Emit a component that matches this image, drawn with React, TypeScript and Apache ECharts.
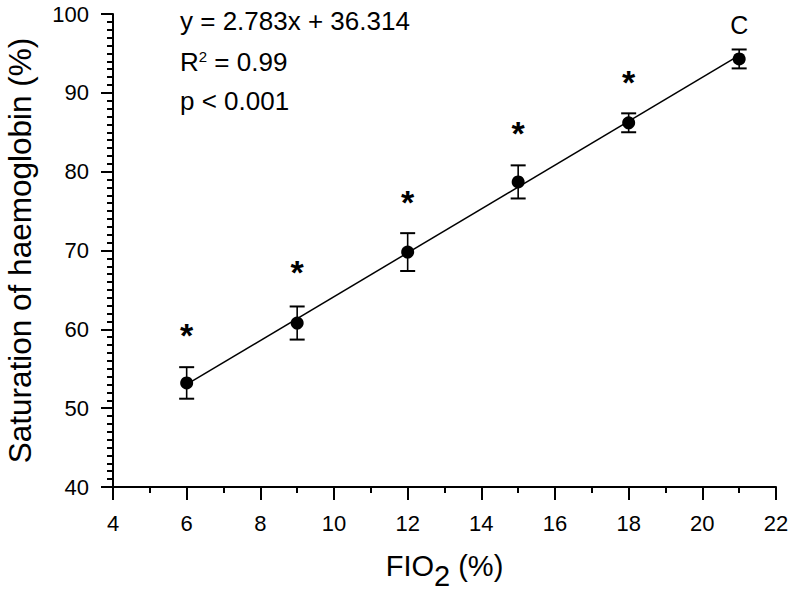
import React, { useEffect, useRef } from "react";
import * as echarts from "echarts";

const FONT = "'Liberation Sans', Arial, sans-serif";

// FIO2 (%) levels
const fio2 = [6, 9, 12, 15, 18, 21];
// mean saturation of haemoglobin (%)
const satMean = [53.2, 60.8, 69.8, 78.7, 86.2, 94.3];
// error (±)
const satErr = [2.0, 2.1, 2.4, 2.1, 1.2, 1.2];
// significance marks and their vertical positions
const marks = ["*", "*", "*", "*", "*", "C"];
const markY = [59.6, 67.6, 76.5, 85.3, 91.8, 98.6];
// regression line end points (y = 2.783x + 36.314)
const fitX = [6, 21];
const fitY = [53.01, 94.76];

const xTicks = [4, 6, 8, 10, 12, 14, 16, 18, 20, 22];
const yTicks = [40, 50, 60, 70, 80, 90, 100];

export default function App() {
  const ref = useRef<HTMLDivElement>(null);
  useEffect(() => {
    if (!ref.current) return;
    const chart = echarts.init(ref.current, undefined, { renderer: "svg" });
    const axisLineStyle = { color: "#000", width: 2 };
    chart.setOption({
      animation: false,
      backgroundColor: "#fff",
      textStyle: { fontFamily: FONT },
      grid: { left: 113, right: 20, top: 14, bottom: 110, containLabel: false, outerBoundsMode: "none" },
      xAxis: {
        type: "value",
        min: xTicks[0],
        max: xTicks[xTicks.length - 1],
        interval: 2,
        name: "{a|FIO}{b|2}{a| (%)}",
        nameLocation: "middle",
        nameGap: 64,
        nameTextStyle: {
          rich: {
            a: { fontSize: 29, color: "#000", fontFamily: FONT, verticalAlign: "top" },
            b: { fontSize: 29, color: "#000", fontFamily: FONT, verticalAlign: "bottom", padding: [10, 0, 0, 0] },
          },
        },
        axisLine: { lineStyle: axisLineStyle },
        axisTick: { length: 13, lineStyle: { color: "#000", width: 2 } },
        minorTick: { show: true, splitNumber: 2, length: 6, lineStyle: { color: "#000", width: 2 } },
        splitLine: { show: false },
        axisLabel: { fontSize: 22, color: "#000", margin: 25, fontFamily: FONT },
      },
      yAxis: {
        type: "value",
        min: yTicks[0],
        max: yTicks[yTicks.length - 1],
        interval: 10,
        name: "Saturation of haemoglobin (%)",
        nameLocation: "middle",
        nameGap: 77,
        nameRotate: 90,
        nameTextStyle: { fontSize: 31.5, color: "#000", fontFamily: FONT },
        axisLine: { lineStyle: axisLineStyle },
        axisTick: { length: 12, lineStyle: { color: "#000", width: 2 } },
        minorTick: { show: true, splitNumber: 10, length: 6, lineStyle: { color: "#000", width: 2 } },
        splitLine: { show: false },
        axisLabel: { fontSize: 22, color: "#000", margin: 24, fontFamily: FONT },
      },
      graphic: [
        {
          type: "text",
          left: 180,
          top: 8,
          style: { text: "y = 2.783x + 36.314", fontSize: 26, fill: "#000", fontFamily: FONT },
        },
        {
          type: "text",
          left: 180,
          top: 49,
          style: {
            text: "{a|R}{s|2}{a| = 0.99}",
            fill: "#000",
            rich: {
              a: { fontSize: 26, fontFamily: FONT, fill: "#000", verticalAlign: "bottom" },
              s: { fontSize: 15, fontFamily: FONT, fill: "#000", verticalAlign: "top" },
            },
          },
        },
        {
          type: "text",
          left: 180,
          top: 88,
          style: { text: "p < 0.001", fontSize: 26, fill: "#000", fontFamily: FONT },
        },
      ],
      series: [
        {
          type: "line",
          data: fitX.map((x, i) => [x, fitY[i]]),
          symbol: "none",
          lineStyle: { color: "#000", width: 1.5 },
          z: 2,
        },
        {
          type: "custom",
          data: fio2.map((x, i) => [x, satMean[i], satErr[i]]),
          renderItem: (params: any, api: any) => {
            const x = api.value(0);
            const y = api.value(1);
            const e = api.value(2);
            const top = api.coord([x, y + e]);
            const bot = api.coord([x, y - e]);
            const hw = 7.5;
            const st = { stroke: "#000", lineWidth: 2 };
            return {
              type: "group",
              children: [
                { type: "line", shape: { x1: top[0], y1: top[1], x2: bot[0], y2: bot[1] }, style: { stroke: "#000", lineWidth: 1.6 } },
                { type: "line", shape: { x1: top[0] - hw, y1: top[1], x2: top[0] + hw, y2: top[1] }, style: st },
                { type: "line", shape: { x1: bot[0] - hw, y1: bot[1], x2: bot[0] + hw, y2: bot[1] }, style: st },
              ],
            };
          },
          z: 3,
        },
        {
          type: "scatter",
          data: fio2.map((x, i) => [x, satMean[i]]),
          symbol: "circle",
          symbolSize: 13,
          itemStyle: { color: "#000", opacity: 1 },
          z: 4,
        },
        {
          type: "custom",
          data: fio2.map((x, i) => [x, markY[i], i]),
          renderItem: (params: any, api: any) => {
            const p = api.coord([api.value(0), api.value(1)]);
            const m = marks[api.value(2)];
            const isStar = m === "*";
            return {
              type: "text",
              x: p[0],
              y: isStar ? p[1] + 3 : p[1],
              style: {
                text: m,
                fill: "#000",
                font: isStar ? `bold 34px ${FONT}` : `25px ${FONT}`,
                align: "center",
                verticalAlign: "middle",
              },
            };
          },
          z: 5,
        },
      ],
    });
    return () => chart.dispose();
  }, []);
  return (
    <div
      ref={ref}
      style={{ position: "fixed", left: 0, top: 0, width: 796, height: 597 }}
    />
  );
}
